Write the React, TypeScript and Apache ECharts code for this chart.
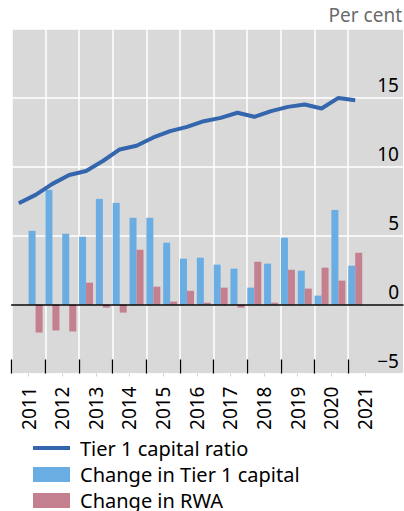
import React, { useEffect, useRef } from 'react';
import * as echarts from 'echarts';

const years = ['2011', '2012', '2013', '2014', '2015', '2016', '2017', '2018', '2019', '2020', '2021'];
// Half-yearly observations
const tier1Ratio = [7.36, 7.96, 8.76, 9.41, 9.70, 10.42, 11.26, 11.53, 12.13, 12.59, 12.9, 13.31, 13.55, 13.92, 13.63, 14.04, 14.35, 14.52, 14.23, 15.0, 14.83];
const changeTier1Capital = [5.35, 8.32, 5.14, 4.92, 7.67, 7.38, 6.30, 6.30, 4.49, 3.33, 3.40, 2.90, 2.61, 1.23, 2.97, 4.85, 2.46, 0.65, 6.87, 2.82];
const changeRWA = [-2.03, -1.88, -1.95, 1.59, -0.22, -0.58, 3.98, 1.30, 0.22, 1.0, 0.14, 1.23, -0.22, 3.11, 0.14, 2.53, 1.16, 2.68, 1.74, 3.76];
const yTickValues = [-5, 0, 5, 10, 15, 20];
const seriesNames = ['Tier 1 capital ratio', 'Change in Tier 1 capital', 'Change in RWA'];
const unitLabel = 'Per cent';

const FONT = 'Noto Sans';
const OFFSET = 0.42;
const XMAX = 23.26;
const COLORS = { line: '#3466ae', blue: '#6aade2', red: '#c4808f' };

export default function App() {
  const ref = useRef<HTMLDivElement>(null);
  useEffect(() => {
    document.body.style.margin = '0';
    if (!ref.current) return;
    const chart = echarts.init(ref.current, undefined, { renderer: 'svg' });
    const majorTicks = years.map((_, i) => i * 2).filter((v) => v <= 20);
    const labelTicks = years.map((_, i) => i * 2 + 1);
    const lineData = tier1Ratio.map((v, i) => [i + OFFSET, v]);
    const blueData = changeTier1Capital.map((v, i) => [i + 1 + OFFSET, v]);
    const redData = changeRWA.map((v, i) => [i + 1 + OFFSET, v]);
    const baseX = {
      type: 'value',
      min: 0,
      max: XMAX,
      position: 'bottom',
      gridIndex: 0,
    };
    const legendIcons = ['path://M0,0L36,0L36,4L0,4Z', 'rect', 'rect'];
    const legendTops = [438, 464.5, 490.5];
    chart.setOption({
      animation: false,
      textStyle: { fontFamily: FONT },
      title: {
        text: unitLabel,
        right: 2,
        top: 5,
        padding: 0,
        textStyle: { fontFamily: FONT, fontSize: 19, fontWeight: 'normal', color: '#6b6b6b' },
      },
      grid: {
        left: 11.7,
        right: 1,
        top: 29,
        bottom: 137.5,
        show: true,
        backgroundColor: '#d9d9d9',
        borderWidth: 0,
        containLabel: false,
        outerBoundsMode: 'none',
      },
      legend: seriesNames.map((name, i) => ({
        orient: 'vertical',
        left: 33,
        top: legendTops[i],
        padding: 0,
        itemWidth: 37,
        itemHeight: 15,
        formatter: (n: string) => '{t|' + n + '}',
        textStyle: {
          fontFamily: FONT,
          fontSize: 20,
          color: '#000',
          rich: { t: { fontFamily: FONT, fontSize: 20, color: '#000', padding: [0, 0, 0, 5] } },
        },
        data: [{ name, icon: legendIcons[i] }],
      })),
      xAxis: [
        {
          ...baseX,
          z: 10,
          axisLine: { show: true, onZero: true, lineStyle: { color: '#000', width: 1.5 } },
          axisTick: { show: false },
          axisLabel: { show: false },
          splitLine: { show: false },
        },
        {
          ...baseX,
          axisLine: { show: false, onZero: false },
          axisTick: {
            show: true,
            inside: true,
            length: 14,
            customValues: majorTicks,
            lineStyle: { color: '#000', width: 1.3 },
          },
          axisLabel: {
            show: true,
            customValues: labelTicks,
            rotate: 90,
            margin: 13,
            fontSize: 19,
            fontFamily: FONT,
            color: '#000',
            formatter: (v: number) => {
              const idx = Math.round((v - 1) / 2);
              return years[idx] ?? '';
            },
          },
          splitLine: { show: true, lineStyle: { color: '#ffffff', width: 1.5 } },
        },
        {
          ...baseX,
          axisLine: { show: false, onZero: false },
          axisTick: {
            show: true,
            inside: false,
            length: 3,
            customValues: labelTicks,
            lineStyle: { color: '#d0d0d0', width: 1 },
          },
          axisLabel: { show: false },
          splitLine: { show: false },
        },
      ],
      yAxis: {
        type: 'value',
        position: 'right',
        min: -5,
        max: 20,
        interval: 5,
        axisLine: { show: false },
        axisTick: { show: false },
        axisLabel: {
          inside: true,
          margin: 4,
          fontSize: 19,
          fontFamily: FONT,
          color: '#000',
          verticalAlign: 'bottom',
          padding: [0, 0, 3, 0],
          customValues: yTickValues,
          formatter: (v: number) => (v === 20 ? '' : v < 0 ? '\u2212' + Math.abs(v) : String(v)),
        },
        splitLine: { show: true, lineStyle: { color: '#ffffff', width: 1.5 } },
      },
      series: [
        {
          name: seriesNames[1],
          type: 'bar',
          xAxisIndex: 0,
          data: blueData,
          barWidth: 7,
          barGap: '0%',
          itemStyle: { color: COLORS.blue },
          z: 2,
        },
        {
          name: seriesNames[2],
          type: 'bar',
          xAxisIndex: 0,
          data: redData,
          barWidth: 7,
          barGap: '0%',
          itemStyle: { color: COLORS.red },
          z: 2,
        },
        {
          name: seriesNames[0],
          type: 'line',
          xAxisIndex: 0,
          data: lineData,
          symbol: 'none',
          lineStyle: { color: COLORS.line, width: 4 },
          itemStyle: { color: COLORS.line },
          z: 12,
        },
      ],
    });
    return () => chart.dispose();
  }, []);
  return <div ref={ref} style={{ width: 404, height: 511 }} />;
}
